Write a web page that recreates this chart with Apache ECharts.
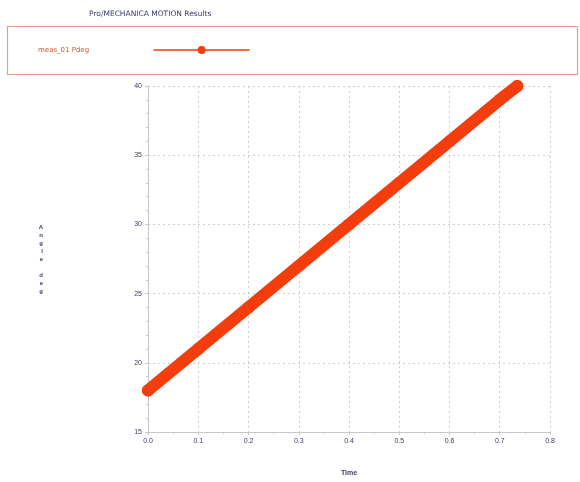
<!DOCTYPE html>
<html><head><meta charset="utf-8">
<script src="https://cdn.jsdelivr.net/npm/echarts@6/dist/echarts.min.js"></script>
<style>html,body{margin:0;padding:0;background:#fff}#c{width:580px;height:482px}</style>
</head><body><div id="c"></div>
<script>
const titleText = 'Pro/MECHANICA MOTION Results';
const seriesName = 'meas_01 Pdeg';
const xName = 'Time';
const yName = 'Angle deg';
const timeValues = [0.0, 0.1, 0.2, 0.3, 0.4, 0.5, 0.6, 0.7, 0.735];
const measValues = [18.0, 21.0, 24.0, 27.0, 30.0, 33.0, 36.0, 39.0, 40.0];
const xTicks = ['0.0','0.1','0.2','0.3','0.4','0.5','0.6','0.7','0.8'];

const chart = echarts.init(document.getElementById('c'));
const navy = '#3a3a6a';
chart.setOption({
  animation: false,
  backgroundColor: '#fff',
  title: { text: titleText, left: 84, top: 5, textStyle: { fontSize: 7.5, fontWeight: 'normal', color: navy, fontFamily: 'DejaVu Sans' } },
  graphic: [{ type: 'rect', left: 5, top: 24, shape: { width: 570, height: 48 }, style: { fill: 'none', stroke: '#e2a384', lineWidth: 1.2 } }],
  legend: {
    left: 33, top: 41, align: 'right', itemWidth: 95, itemHeight: 10,
    textStyle: { fontSize: 7, color: '#c85a30', padding: [0, 60, 0, 0], fontFamily: 'DejaVu Sans' },
    lineStyle: { width: 1.5 },
    data: [seriesName]
  },
  grid: { left: 148, right: 30, top: 86, bottom: 50 },
  xAxis: {
    type: 'value', min: 0, max: 0.8, interval: 0.1,
    name: xName, nameLocation: 'middle', nameGap: 38,
    nameTextStyle: { fontSize: 7, color: navy, fontWeight: 'bold' },
    axisLine: { lineStyle: { color: '#c8c8c8' } },
    axisTick: { lineStyle: { color: '#c8c8c8' }, length: 3 },
    minorTick: { show: true, splitNumber: 2, length: 2, lineStyle: { color: '#c8c8c8' } },
    axisLabel: { fontSize: 7, color: navy, margin: 6, formatter: (v) => xTicks[Math.round(v * 10)] },
    splitLine: { show: true, lineStyle: { color: '#cfcfcf', type: [2, 3] } }
  },
  yAxis: {
    type: 'value', min: 15, max: 40, interval: 5,
    name: yName.split('').join('\n'), nameLocation: 'middle', nameGap: 105, nameRotate: 0,
    nameTextStyle: { fontSize: 6, color: navy, lineHeight: 8, fontWeight: 'bold' },
    axisLine: { show: true, lineStyle: { color: '#c8c8c8' } },
    axisTick: { show: true, lineStyle: { color: '#c8c8c8' }, length: 3 },
    minorTick: { show: true, splitNumber: 5, length: 2, lineStyle: { color: '#c8c8c8' } },
    axisLabel: { fontSize: 7, color: navy, margin: 6 },
    splitLine: { show: true, lineStyle: { color: '#cfcfcf', type: [2, 3] } }
  },
  series: [{
    name: seriesName, type: 'line',
    data: timeValues.map((t, i) => [t, measValues[i]]),
    symbol: 'circle', symbolSize: 12, showSymbol: true,
    itemStyle: { color: '#f43d0c' },
    lineStyle: { color: '#f43d0c', width: 12, cap: 'round' }
  }]
});
</script></body></html>
